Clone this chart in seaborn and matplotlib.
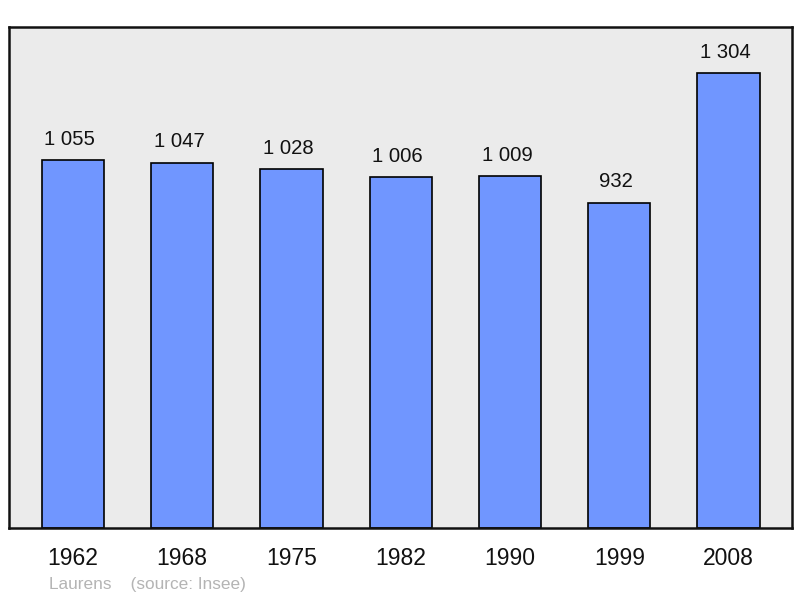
import matplotlib
matplotlib.use("Agg")

import pandas as pd
import seaborn as sns
from matplotlib import pyplot as plt

years = ["1962", "1968", "1975", "1982", "1990", "1999", "2008"]
population = [1055, 1047, 1028, 1006, 1009, 932, 1304]
value_labels = ["1 055", "1 047", "1 028", "1 006", "1 009", "932", "1 304"]

frame = pd.DataFrame({"year": years, "population": population})

sns.set_style("white")
plt.rcParams["font.family"] = ["Liberation Sans", "DejaVu Sans"]

fig = plt.figure(figsize=(8, 5.98), dpi=100)
ax = fig.add_axes([0.01125, 0.117, 0.97875, 0.838])
ax.set_facecolor("#ebebeb")

sns.barplot(
    data=frame,
    x="year",
    y="population",
    color="#7096ff",
    saturation=1,
    width=0.57,
    edgecolor="black",
    linewidth=1.2,
    ax=ax,
)

for patch, label in zip(ax.patches, value_labels):
    ax.annotate(
        label,
        (patch.get_x() + patch.get_width() / 2, patch.get_height()),
        xytext=(-2.2, 15),
        textcoords="offset points",
        ha="center",
        va="center",
        fontsize=14.6,
        color="#111111",
    )

ax.set_xlim(-0.585, 6.58)
ax.set_ylim(0, 1436)
ax.set_yticks([])
ax.set_xlabel("")
ax.set_ylabel("")
ax.tick_params(axis="x", length=0, pad=14, labelsize=16.5, colors="#111111")
for spine in ax.spines.values():
    spine.set_visible(True)
    spine.set_color("#111111")
    spine.set_linewidth(1.8)

fig.text(0.061, 0.023, "Laurens    (source: Insee)", fontsize=12.4, color="#b4b4b4", ha="left", va="center")

fig.savefig("out.png", dpi=100)
plt.close(fig)
